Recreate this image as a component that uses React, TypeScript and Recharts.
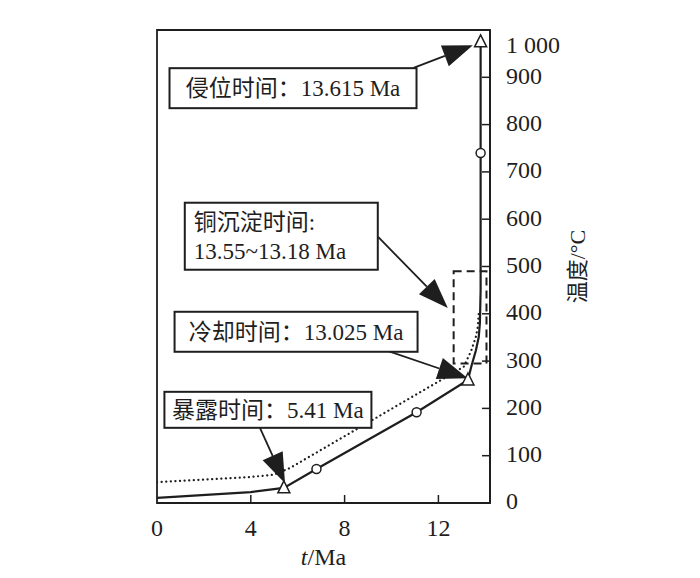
import { LineChart, Line, XAxis, YAxis, ReferenceArea, ReferenceLine, ReferenceDot } from "recharts";

// solid curve: time (Ma) vs temperature (°C); marker = tri / circle / none
const solidT = [0, 4, 5.41, 6.8, 11.07, 13.26, 13.4, 13.6, 13.72, 13.77, 13.8, 13.8, 13.8];
const solidV = [11, 23, 32, 72, 192, 260, 288, 323, 351, 381, 450, 740, 975];
const solidMarks = ["", "", "tri", "circle", "circle", "tri", "", "", "", "", "", "circle", "tri"];

// dotted curve
const dotT = [0, 4, 5.0, 5.67, 13.08, 13.4, 13.6, 13.68, 13.73];
const dotV = [44, 55, 60, 74, 288, 322, 352, 372, 408];

const xTicks = [0, 4, 8, 12];
const yTicks = [0, 100, 200, 300, 400, 500, 600, 700, 800, 900, 1000];

// copper precipitation window box
const boxT = [12.65, 14.05];
const boxV = [295, 490];

// annotation boxes (data coords of box centre)
const notes = [
  { t: 5.8, v: 877, w: 247, h: 40, lines: ["侵位时间：13.615 Ma"] },
  { t: 5.3, v: 564, w: 193, h: 67, lines: ["铜沉淀时间:", "13.55~13.18 Ma"] },
  { t: 5.93, v: 362, w: 243, h: 40, lines: ["冷却时间：13.025 Ma"] },
  { t: 4.73, v: 197, w: 207, h: 36, lines: ["暴露时间：5.41 Ma"] },
];

// arrows: start -> tip
const arrows = [
  { from: [10.94, 920], to: [13.47, 968] },
  { from: [9.44, 562], to: [12.4, 412] },
  { from: [9.74, 323], to: [13.25, 264] },
  { from: [4.39, 159], to: [5.46, 42] },
];

const solidData = solidT.map((t, i) => ({ t, v: solidV[i], m: solidMarks[i] }));
const dotData = dotT.map((t, i) => ({ t, v: dotV[i] }));

const serif = "'Liberation Serif', 'Times New Roman', 'Noto Sans CJK SC', serif";
const ink = "#1e1e1e";

const Marker = (props: any) => {
  const { cx, cy, payload, index } = props;
  if (payload.m === "tri") {
    return (
      <polygon
        key={"m" + index}
        points={`${cx},${cy - 7} ${cx - 6},${cy + 5} ${cx + 6},${cy + 5}`}
        fill="#fff"
        stroke={ink}
        strokeWidth={1.5}
      />
    );
  }
  if (payload.m === "circle") {
    return <circle key={"m" + index} cx={cx} cy={cy} r={4.5} fill="#fff" stroke={ink} strokeWidth={1.5} />;
  }
  return <g key={"m" + index} />;
};

const YTick = (props: any) => {
  const { x, y, payload } = props;
  const v = payload.value;
  return (
    <g>
      {v > 0 && v < 1000 && <line x1={x - 8} x2={x} y1={y} y2={y} stroke={ink} strokeWidth={1.5} />}
      <text x={x + 16} y={y + (v === 1000 ? 15 : -2)} dy="0.35em" fontSize={24} fontFamily={serif} fill={ink}>
        {v === 1000 ? "1 000" : v}
      </text>
    </g>
  );
};

const XTick = (props: any) => {
  const { x, y, payload } = props;
  const v = payload.value;
  return (
    <g>
      {v > 0 && <line x1={x} x2={x} y1={y} y2={y - 8} stroke={ink} strokeWidth={1.5} />}
      <text x={x} y={y + 33} textAnchor="middle" fontSize={24} fontFamily={serif} fill={ink}>
        {v}
      </text>
    </g>
  );
};

const NoteBox = (note: any) => (props: any) => {
  const { cx, cy } = props;
  const n = note.lines.length;
  return (
    <g>
      <rect x={cx - note.w / 2} y={cy - note.h / 2} width={note.w} height={note.h} fill="#fff" stroke={ink} strokeWidth={2} />
      {note.lines.map((s: string, i: number) => (
        <text
          key={i}
          x={n > 1 ? cx - note.w / 2 + 9 : cx}
          y={cy + (i - (n - 1) / 2) * 29}
          dy="0.36em"
          textAnchor={n > 1 ? "start" : "middle"}
          fontSize={23}
          fontFamily={serif}
          fill={ink}
        >
          {s}
        </text>
      ))}
    </g>
  );
};

const Arrow = (props: any) => {
  const { x1, y1, x2, y2 } = props;
  const dx = x2 - x1;
  const dy = y2 - y1;
  const len = Math.sqrt(dx * dx + dy * dy) || 1;
  const ux = dx / len;
  const uy = dy / len;
  const hl = 30;
  const hw = 11;
  const bx = x2 - ux * hl;
  const by = y2 - uy * hl;
  return (
    <g>
      <line x1={x1} y1={y1} x2={bx} y2={by} stroke={ink} strokeWidth={1.8} />
      <polygon
        points={`${x2},${y2} ${bx - uy * hw},${by + ux * hw} ${bx + uy * hw},${by - ux * hw}`}
        fill={ink}
      />
    </g>
  );
};

const YLabel = (props: any) => {
  const { viewBox } = props;
  const x = viewBox.x + 87;
  const y = viewBox.y + viewBox.height / 2;
  return (
    <text x={x} y={y} transform={`rotate(-90 ${x} ${y})`} textAnchor="middle" dy="0.35em" fontSize={22} fontFamily={serif} fill={ink}>
      温度/°C
    </text>
  );
};

const XLabel = (props: any) => {
  const { viewBox } = props;
  const x = viewBox.x + viewBox.width / 2;
  const y = viewBox.y + 62;
  return (
    <text x={x} y={y} textAnchor="middle" fontSize={24} fontFamily={serif} fill={ink}>
      <tspan fontStyle="italic">t</tspan>/Ma
    </text>
  );
};

export default function App() {
  return (
    <div style={{ width: 692, height: 570, background: "#fff" }}>
      <LineChart width={692} height={570} margin={{ top: 22, right: 150, bottom: 25, left: 149 }}>
        <XAxis
          type="number"
          dataKey="t"
          domain={[0, 14.2]}
          ticks={xTicks}
          tickSize={0}
          tickMargin={0}
          tick={<XTick />}
          height={50}
          axisLine={{ stroke: ink, strokeWidth: 2 }}
          allowDataOverflow
          label={<XLabel />}
        />
        <YAxis
          orientation="right"
          type="number"
          dataKey="v"
          domain={[0, 1000]}
          ticks={yTicks}
          tickSize={0}
          tickMargin={0}
          tick={<YTick />}
          width={60}
          axisLine={{ stroke: ink, strokeWidth: 2 }}
          label={<YLabel />}
        />
        <ReferenceArea x1={0} x2={14.2} y1={0} y2={1000} fill="none" stroke={ink} strokeWidth={1.8} ifOverflow="visible" />
        <ReferenceArea
          x1={boxT[0]}
          x2={boxT[1]}
          y1={boxV[0]}
          y2={boxV[1]}
          fill="none"
          stroke={ink}
          strokeWidth={2}
          strokeDasharray="8 5"
        />
        <Line
          data={dotData}
          dataKey="v"
          type="linear"
          stroke={ink}
          strokeWidth={2.2}
          strokeDasharray="0.1 4.5"
          strokeLinecap="round"
          dot={false}
          activeDot={false}
          isAnimationActive={false}
        />
        <Line
          data={solidData}
          dataKey="v"
          type="linear"
          stroke={ink}
          strokeWidth={2.2}
          dot={<Marker />}
          activeDot={false}
          isAnimationActive={false}
        />
        {notes.map((n, i) => (
          <ReferenceDot key={"n" + i} x={n.t} y={n.v} r={0} shape={NoteBox(n)} ifOverflow="visible" />
        ))}
        {arrows.map((a, i) => (
          <ReferenceLine
            key={"a" + i}
            segment={[
              { x: a.from[0], y: a.from[1] },
              { x: a.to[0], y: a.to[1] },
            ]}
            shape={Arrow}
            ifOverflow="visible"
          />
        ))}
      </LineChart>
    </div>
  );
}
